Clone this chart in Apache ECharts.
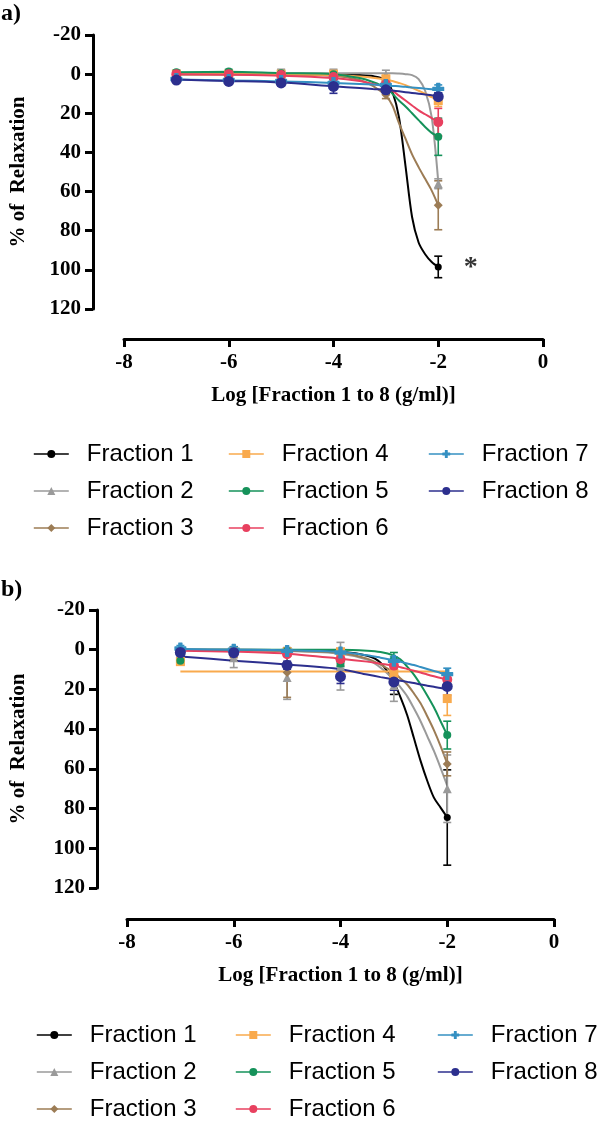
<!DOCTYPE html>
<html>
<head>
<meta charset="utf-8">
<script src="https://cdn.jsdelivr.net/npm/echarts@6/dist/echarts.min.js"></script>
<style>
  html, body { margin: 0; padding: 0; background: #fff; }
  #chart { width: 600px; height: 1122px; }
</style>
</head>
<body>
<div id="chart"></div>
<script>
// ---------------- DATA ----------------
const names = ['Fraction 1', 'Fraction 2', 'Fraction 3', 'Fraction 4', 'Fraction 5', 'Fraction 6', 'Fraction 7', 'Fraction 8'];
const xTicks = [-8, -6, -4, -2, 0];
const yTicks = [-20, 0, 20, 40, 60, 80, 100, 120];
const xPoints = [-7, -6, -5, -4, -3, -2];
const fitX = [-7, -6, -5, -4, -3.5, -3.25, -3, -2.875, -2.75, -2.625, -2.5, -2.375, -2.25, -2.125, -2];

// Panel a) mean values at xPoints
const aF1 = [0, 0, 0, 0, 7, 98.5];
const aF2 = [0, -0.5, 0, 0, 0.5, 56];
const aF3 = [0, 0, 0, 0.5, 10.5, 67];
const aF4 = [0, 0, 0, 0, 2.5, 13.5];
const aF5 = [-1, -1.4, -0.5, 0, 6, 32];
const aF6 = [0, 0, 0.5, 1.5, 5, 24.5];
const aF7 = [2.5, 3, 3.5, 4.5, 5.5, 7.5];
const aF8 = [3, 3.7, 4.5, 6.3, 8, 11.5];
// Panel a) error (SEM)
const aE1 = [1, 1, 1, 1, 2, 5.5];
const aE2 = [1, 1, 2.5, 2.5, 2.5, 2.5];
const aE3 = [1, 1, 1, 1, 2, 12.5];
const aE4 = [1, 1, 1, 1, 2, 3];
const aE5 = [1, 1, 1, 1, 1.5, 9.5];
const aE6 = [1, 1, 1, 1, 1.5, 7];
const aE7 = [1, 1, 1, 1.5, 1.5, 2];
const aE8 = [1, 1, 1.5, 3.5, 2, 2];
// Panel a) fitted curves read at fitX
const aFit1 = [0, 0, 0, 0, 0.5, 1, 3, 9, 22, 47, 73, 86, 92, 96, 98.5];
const aFit2 = [-0.5, -0.5, -0.5, -0.5, -0.5, -0.5, -0.5, -0.5, -0.3, 0, 0.5, 2.5, 8.5, 22, 55];
const aFit3 = [0, 0, 0.2, 0.8, 3, 6, 11, 16, 25, 33, 41, 47.5, 53.5, 59.5, 67];
const aFit4 = [0, 0, 0, 0.5, 1.2, 1.8, 2.8, 3.5, 4.5, 5.6, 7, 8.5, 10, 11.8, 13.5];
const aFit5 = [-1, -1.2, -0.5, 0, 2, 4, 7, 10, 13.5, 16.5, 20, 23.5, 27, 30, 32];
const aFit6 = [0, 0.3, 0.8, 2, 3.5, 5, 6.5, 8.5, 11, 13.5, 16, 18.5, 20.5, 22.5, 24.5];
const aFit7 = [2.8, 3.2, 3.7, 4.5, 5, 5.3, 5.7, 6, 6.2, 6.5, 6.8, 7.1, 7.4, 7.7, 8];
const aFit8 = [2.8, 3.5, 4.3, 6.2, 7.1, 7.6, 8, 8.4, 8.8, 9.2, 9.6, 10, 10.4, 10.8, 11.3];
const aStar = [[-1.38, 99]];

// Panel b) mean values at xPoints
const bF1 = [0.5, 2, 1, 2, 17, 84.5];
const bF2 = [3, 4, 14, 8.3, 18, 70];
const bF3 = [4, 2, 11.5, 6, 15, 57.5];
const bF4 = [6, 1, 1, 1, 12, 24.6];
const bF5 = [5.5, 0.5, 0.5, 7, 5, 43];
const bF6 = [1, 1, 2.3, 4.8, 8, 15];
const bF7 = [-0.6, 0, 0.6, 1.4, 5.6, 12.3];
const bF8 = [1.4, 1.5, 7.8, 13.5, 16.2, 18.5];
// Panel b) error (SEM)
const bE1 = [1, 3.5, 2, 2, 5.5, 24];
const bE2 = [2, 5, 11, 12, 8, 17];
const bE3 = [2, 2, 12.5, 2, 3, 6];
const bE4 = [1.5, 1, 1, 1, 2, 8.5];
const bE5 = [1.5, 1, 1, 1.5, 3.6, 7];
const bE6 = [1, 1, 1, 1, 1.5, 2];
const bE7 = [1.5, 1.5, 1, 1, 2, 3];
const bE8 = [1.5, 1.5, 2, 3.5, 4.2, 4.5];
// Panel b) fitted curves read at fitX
const bFit1 = [0, 0, 0.2, 1, 3, 6.5, 16.5, 24, 33, 44.5, 56, 66, 74.5, 79.5, 84.5];
const bFit2 = [0, 0.3, 0.7, 2, 5, 9, 15, 19, 23.5, 29.5, 36, 43.5, 51, 59.5, 68.5];
const bFit3 = [0, 0.2, 0.5, 1.5, 4.5, 7.5, 11.5, 14.5, 17.5, 22, 27, 33.5, 40.5, 48.5, 57.3];
const bFit4 = [11, 11, 11, 11, 11, 11, 11, 11, 11, 11, 11, 11, 11, 11, 11];
const bFit5 = [0, 0, 0, 0, 0.5, 1.2, 3, 5, 8.5, 12.5, 17.5, 23, 29, 36, 43];
const bFit6 = [0.5, 1, 2, 4.5, 6, 7, 8, 8.8, 9.7, 10.6, 11.5, 12.5, 13.4, 14.2, 15];
const bFit7 = [-0.3, 0, 0.3, 1.2, 2.8, 4, 5.3, 6.1, 6.9, 7.7, 8.7, 9.7, 10.7, 11.7, 12.8];
const bFit8 = [3.4, 5.5, 7.5, 9.8, 12.5, 13.8, 15, 15.6, 16.2, 16.8, 17.5, 18.1, 18.7, 19.3, 20];

// ---------------- STYLE ----------------
const colors = ['#000000', '#9a9a9a', '#9c7c55', '#f9aa4d', '#15925a', '#e8405f', '#3490c2', '#2c2f8e'];
const plusPath = 'path://M3.5,0 h3 a0.5,0.5 0 0 1 0.5,0.5 v3 h3 a0.5,0.5 0 0 1 0.5,0.5 v3 a0.5,0.5 0 0 1 -0.5,0.5 h-3 v3 a0.5,0.5 0 0 1 -0.5,0.5 h-3 a0.5,0.5 0 0 1 -0.5,-0.5 v-3 h-3 a0.5,0.5 0 0 1 -0.5,-0.5 v-3 a0.5,0.5 0 0 1 0.5,-0.5 h3 v-3 a0.5,0.5 0 0 1 0.5,-0.5 z';
const symbols = ['circle', 'triangle', 'diamond', 'rect', 'circle', 'circle', plusPath, 'circle'];
const symSizes = [7, 9, 9, 9, 8, 10, 12, 11];

const panels = [
  { means: [aF1, aF2, aF3, aF4, aF5, aF6, aF7, aF8], errs: [aE1, aE2, aE3, aE4, aE5, aE6, aE7, aE8], fits: [aFit1, aFit2, aFit3, aFit4, aFit5, aFit6, aFit7, aFit8] },
  { means: [bF1, bF2, bF3, bF4, bF5, bF6, bF7, bF8], errs: [bE1, bE2, bE3, bE4, bE5, bE6, bE7, bE8], fits: [bFit1, bFit2, bFit3, bFit4, bFit5, bFit6, bFit7, bFit8] }
];

const serifBold = { fontFamily: 'Liberation Serif', fontWeight: 'bold', color: '#000' };

function makeXAxis(gi, offset) {
  return {
    gridIndex: gi, type: 'value', min: -8, max: 0, interval: 2, offset: offset,
    axisLine: { show: true, onZero: false, lineStyle: { color: '#000', width: 3 } },
    axisTick: { show: true, length: 8, lineStyle: { color: '#000', width: 3 } },
    axisLabel: { margin: 13, fontSize: 21, ...serifBold, customValues: xTicks },
    splitLine: { show: false },
    name: 'Log [Fraction 1 to 8 (g/ml)]', nameLocation: 'middle', nameGap: 46,
    nameTextStyle: { fontSize: 21, ...serifBold }
  };
}
function makeYAxis(gi, offset, nameGap) {
  return {
    gridIndex: gi, type: 'value', inverse: true, min: -20, max: 120, interval: 20, offset: offset,
    axisLine: { show: true, onZero: false, lineStyle: { color: '#000', width: 3 } },
    axisTick: { show: true, length: 8, lineStyle: { color: '#000', width: 3 } },
    axisLabel: { margin: 12, fontSize: 21, ...serifBold },
    splitLine: { show: false },
    name: '% of  Relaxation', nameLocation: 'middle', nameGap: nameGap, nameRotate: 90,
    nameTextStyle: { fontSize: 21, ...serifBold }
  };
}

const series = [];
panels.forEach((p, gi) => {
  // fitted lines (carry legend icons)
  names.forEach((nm, k) => {
    series.push({
      type: 'line', name: nm, xAxisIndex: gi, yAxisIndex: gi,
      data: fitX.map((x, i) => [x, p.fits[k][i]]),
      smooth: 0.3, showSymbol: false,
      symbol: symbols[k], symbolSize: symSizes[k],
      lineStyle: { color: colors[k], width: 2 }, itemStyle: { color: colors[k] },
      z: 2, silent: true
    });
  });
  // error bars
  names.forEach((nm, k) => {
    series.push({
      type: 'custom', name: nm, xAxisIndex: gi, yAxisIndex: gi,
      data: xPoints.map((x, i) => [x, p.means[k][i], p.errs[k][i]]),
      encode: { x: 0, y: 1 },
      renderItem: function (params, api) {
        const x = api.value(0), y = api.value(1), e = api.value(2);
        const t = api.coord([x, y - e]);
        const b = api.coord([x, y + e]);
        const hw = 4;
        const st = { stroke: colors[k], lineWidth: 1.6 };
        return {
          type: 'group', children: [
            { type: 'line', shape: { x1: t[0], y1: t[1], x2: b[0], y2: b[1] }, style: st },
            { type: 'line', shape: { x1: t[0] - hw, y1: t[1], x2: t[0] + hw, y2: t[1] }, style: st },
            { type: 'line', shape: { x1: b[0] - hw, y1: b[1], x2: b[0] + hw, y2: b[1] }, style: st }
          ]
        };
      },
      z: 3, silent: true
    });
  });
  // markers
  names.forEach((nm, k) => {
    series.push({
      type: 'scatter', name: nm, xAxisIndex: gi, yAxisIndex: gi,
      data: xPoints.map((x, i) => [x, p.means[k][i]]),
      symbol: symbols[k], symbolSize: symSizes[k],
      itemStyle: { color: colors[k], opacity: 1 },
      z: 4, silent: true
    });
  });
});
// asterisk annotation in panel a
series.push({
  type: 'scatter', xAxisIndex: 0, yAxisIndex: 0, data: aStar, symbolSize: 1,
  itemStyle: { color: 'rgba(0,0,0,0)' },
  label: { show: true, position: 'inside', formatter: '*', fontSize: 28, ...serifBold },
  z: 5, silent: true
});

const legText = { fontFamily: 'Liberation Sans', fontSize: 24, color: '#000', lineHeight: 26, padding: [0, 0, 0, 13] };
function leg(left, top, data) {
  return {
    orient: 'vertical', left: left, top: top, itemWidth: 35, itemHeight: 10, itemGap: 11,
    selectedMode: false, data: data, textStyle: legText, padding: 0,
    lineStyle: { width: 1.6 }
  };
}

const option = {
  animation: false,
  backgroundColor: '#fff',
  title: [
    { text: 'a)', left: 1, top: 2, padding: 0, textStyle: { fontSize: 24, ...serifBold } },
    { text: 'b)', left: 1, top: 578, padding: 0, textStyle: { fontSize: 24, ...serifBold } }
  ],
  grid: [
    { left: 119, top: 35, width: 424, height: 274 },
    { left: 122, top: 610, width: 432, height: 278 }
  ],
  xAxis: [makeXAxis(0, 30), makeXAxis(1, 31)],
  yAxis: [makeYAxis(0, 31, 64), makeYAxis(1, 30, 68)],
  legend: [
    leg(33, 441, names.slice(0, 3)),
    leg(228, 441, names.slice(3, 6)),
    leg(428, 441, names.slice(6, 8)),
    leg(36, 1022, names.slice(0, 3)),
    leg(235, 1022, names.slice(3, 6)),
    leg(437, 1022, names.slice(6, 8))
  ],
  series: series
};

const chart = echarts.init(document.getElementById('chart'), null, { renderer: 'canvas' });
chart.setOption(option);
</script>
</body>
</html>
